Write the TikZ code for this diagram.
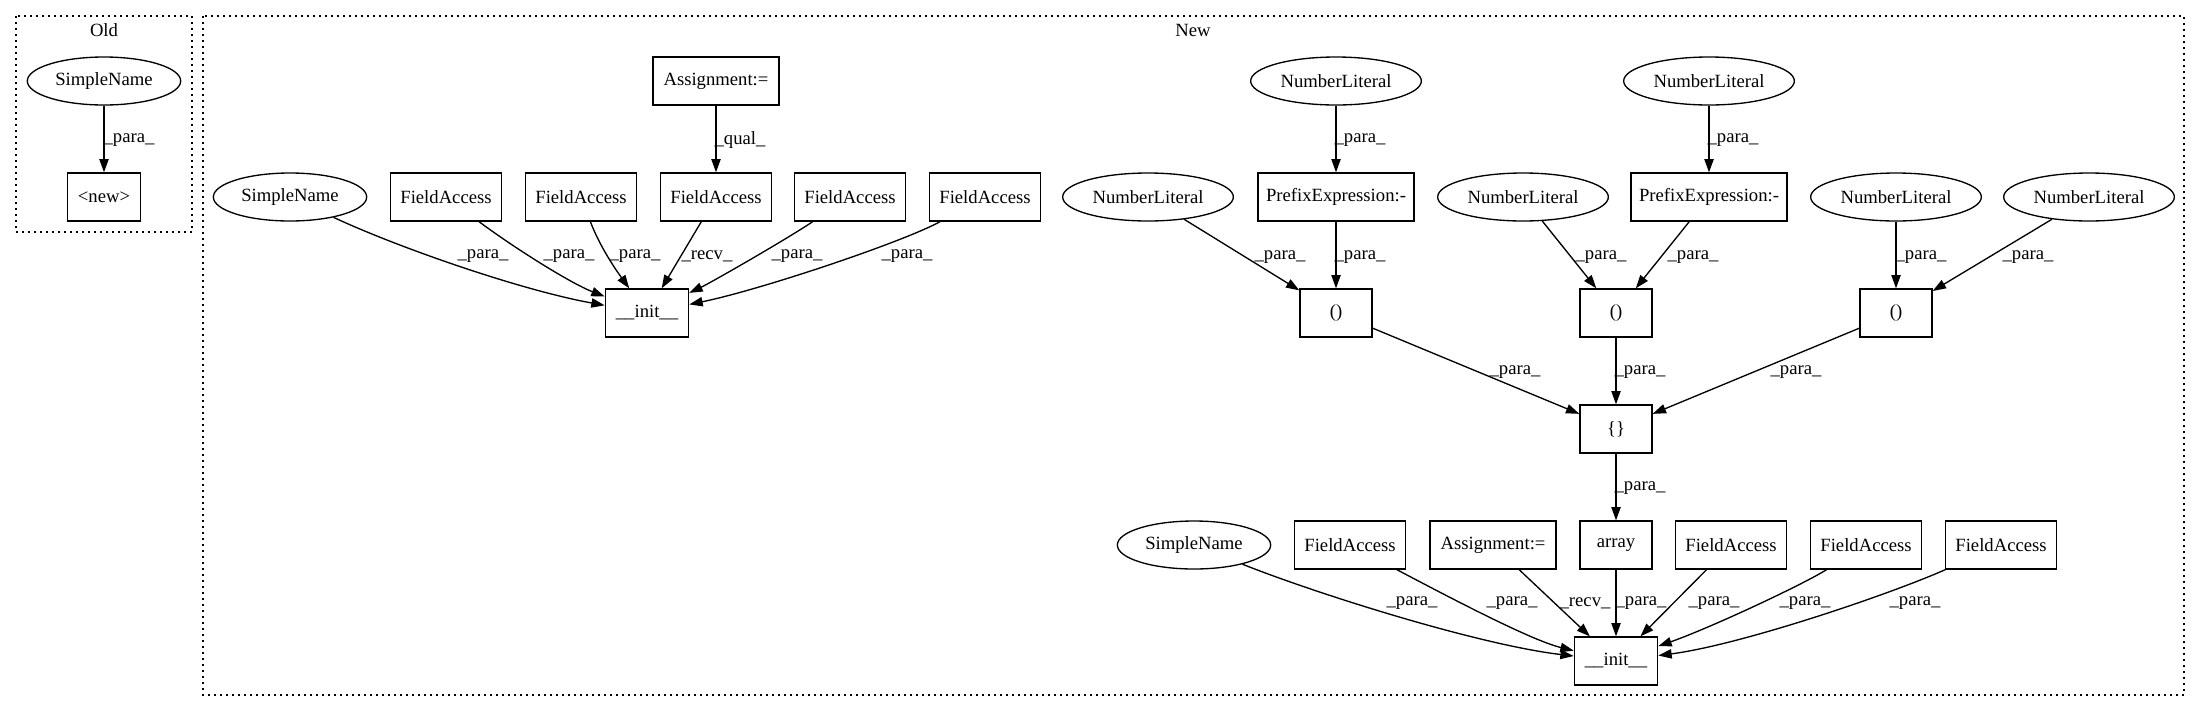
\documentclass[tikz,border=0pt]{standalone}
\usepackage{fontspec}
\setmainfont{Liberation Serif}
\usetikzlibrary{shapes.geometric,arrows.meta}
\begin{document}
\begin{tikzpicture}[x=0.75bp,y=-0.75bp,
  every node/.style={font=\fontsize{14bp}{16bp}\selectfont, inner sep=0pt},
  box/.style={draw, line width=1bp, rectangle, minimum height=36bp},
  oval/.style={draw, line width=1bp, ellipse, minimum height=36bp},
  fbox/.style={box, minimum width=83.25bp},
  nlit/.style={oval, minimum width=128bp},
  sname/.style={oval, minimum width=115bp},
  edge/.style={draw, line width=1bp, -{Triangle[length=10bp,width=7bp]}},
  cluster/.style={draw, line width=1bp, dash pattern=on 1.2bp off 3.3bp}]
\useasboundingbox (0,0) rectangle (2201,712);
% clusters
\draw[cluster] (16,16) rectangle (192,232);
\draw[cluster] (203,16) rectangle (2184,695);
\node (oldlbl) at (104,30) {Old};
\node (newlbl) at (1193,30) {New};
% Old
\node[sname] (osn) at (104,81) {SimpleName};
\node[box, minimum width=55bp] (onew) at (104,197) {\textless new\textgreater};
% New left
\node[box, minimum width=94.5bp] (asg1) at (716,81) {Assignment:=};
\node[sname] (sn1) at (290,197) {SimpleName};
\node[fbox] (fa1) at (446,197) {FieldAccess};
\node[fbox] (fa2) at (581,197) {FieldAccess};
\node[fbox] (fa3) at (716,197) {FieldAccess};
\node[fbox] (fa4) at (850,197) {FieldAccess};
\node[fbox] (fa5) at (985,197) {FieldAccess};
\node[box, minimum width=62.5bp] (init1) at (647,313) {\_\_init\_\_};
% New right
\node[nlit] (nlt1) at (1336,81) {NumberLiteral};
\node[nlit] (nlt2) at (1709,81) {NumberLiteral};
\node[nlit] (nl1) at (1148,197) {NumberLiteral};
\node[box, minimum width=117bp] (pe1) at (1336,197) {PrefixExpression:-};
\node[nlit] (nl2) at (1523,197) {NumberLiteral};
\node[box, minimum width=117bp] (pe2) at (1709,197) {PrefixExpression:-};
\node[nlit] (nl3) at (1896,197) {NumberLiteral};
\node[nlit] (nl4) at (2089,197) {NumberLiteral};
\node[box, minimum width=54bp] (p1) at (1336,313) {()};
\node[box, minimum width=54bp] (p2) at (1616,313) {()};
\node[box, minimum width=54bp] (p3) at (1896,313) {()};
\node[box, minimum width=54bp] (br) at (1616,429) {\{\}};
\node[sname] (sn2) at (1194,545) {SimpleName};
\node[fbox] (fa6) at (1350,545) {FieldAccess};
\node[box, minimum width=94.5bp] (asg2) at (1493,545) {Assignment:=};
\node[box, minimum width=54bp] (arr) at (1616,545) {array};
\node[fbox] (fa7) at (1731,545) {FieldAccess};
\node[fbox] (fa8) at (1866,545) {FieldAccess};
\node[fbox] (fa9) at (2001,545) {FieldAccess};
\node[box, minimum width=62.5bp] (init2) at (1616,661) {\_\_init\_\_};
% Old edges
\draw[edge] (osn) -- (onew);
\node (lo) at (129,140) {\_para\_};
% New left edges
\draw[edge] (asg1) -- (fa3);
\node (lq) at (740,140) {\_qual\_};
\draw[edge] (sn1) .. controls (397,247) and (520,290) .. (init1);
\draw[edge] (fa1) .. controls (513,247) and (570,283) .. (init1);
\draw[edge] (fa2) .. controls (600,247) and (616,270) .. (init1);
\draw[edge] (fa3) -- (init1);
\draw[edge] (fa4) .. controls (782,242) and (710,283) .. (init1);
\draw[edge] (fa5) .. controls (903,242) and (760,290) .. (init1);
\node (l1) at (483,256) {\_para\_};
\node (l2) at (569,256) {\_para\_};
\node (l3) at (635,256) {\_para\_};
\node (l4) at (707,256) {\_recv\_};
\node (l5) at (797,256) {\_para\_};
\node (l6) at (907,256) {\_para\_};
% New right edges
\draw[edge] (nlt1) -- (pe1);
\draw[edge] (nlt2) -- (pe2);
\node (l7) at (1360,140) {\_para\_};
\node (l8) at (1733,140) {\_para\_};
\draw[edge] (nl1) -- (p1);
\draw[edge] (pe1) -- (p1);
\draw[edge] (nl2) -- (p2);
\draw[edge] (pe2) -- (p2);
\draw[edge] (nl3) -- (p3);
\draw[edge] (nl4) -- (p3);
\node (l9) at (1280,257) {\_para\_};
\node (l10) at (1360,257) {\_para\_};
\node (l11) at (1601,257) {\_para\_};
\node (l12) at (1693,257) {\_para\_};
\node (l13) at (1921,257) {\_para\_};
\node (l14) at (2028,257) {\_para\_};
\draw[edge] (p1) -- (br);
\draw[edge] (p2) -- (br);
\draw[edge] (p3) -- (br);
\node (l15) at (1515,372) {\_para\_};
\node (l16) at (1640,372) {\_para\_};
\node (l17) at (1796,372) {\_para\_};
\draw[edge] (br) -- (arr);
\node (l18) at (1640,488) {\_para\_};
% bottom edges
\draw[edge] (sn2) .. controls (1320,595) and (1480,645) .. (init2);
\draw[edge] (fa6) .. controls (1445,595) and (1530,640) .. (init2);
\draw[edge] (asg2) -- (init2);
\draw[edge] (arr) -- (init2);
\draw[edge] (fa7) -- (init2);
\draw[edge] (fa8) .. controls (1802,585) and (1710,628) .. (init2);
\draw[edge] (fa9) .. controls (1888,595) and (1740,645) .. (init2);
\node (l19) at (1412,603) {\_para\_};
\node (l20) at (1512,603) {\_para\_};
\node (l21) at (1585,603) {\_recv\_};
\node (l22) at (1641,603) {\_para\_};
\node (l23) at (1714,603) {\_para\_};
\node (l24) at (1805,603) {\_para\_};
\node (l25) at (1915,603) {\_para\_};
\end{tikzpicture}
\end{document}
